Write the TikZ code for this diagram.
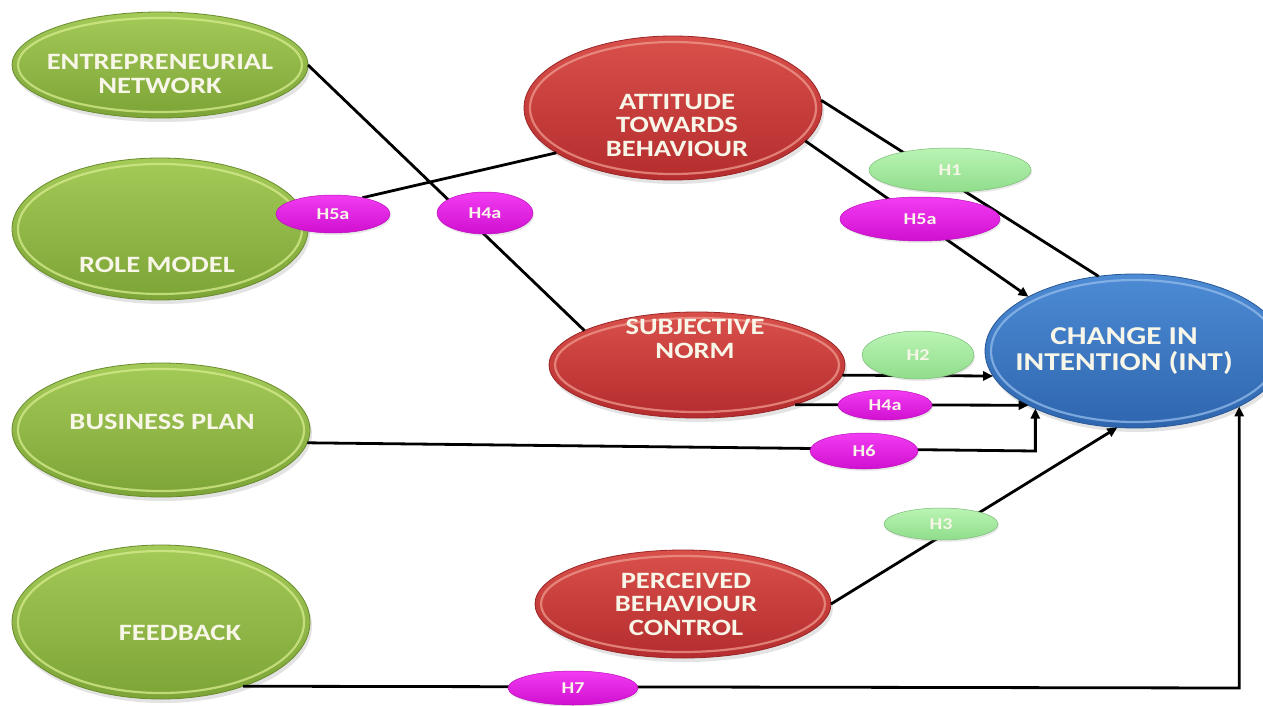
\documentclass[tikz,border=0pt]{standalone}
\usepackage{fontspec}
\setmainfont{Carlito}[FakeStretch=1.22]
\usetikzlibrary{shapes.geometric,arrows.meta,shadows,calc}

\definecolor{greenA}{HTML}{A4CA58}
\definecolor{greenB}{HTML}{7CA436}
\definecolor{greenRim}{HTML}{D6EC8E}
\definecolor{redA}{HTML}{D9504B}
\definecolor{redB}{HTML}{B42C2D}
\definecolor{redRim}{HTML}{EE9A8E}
\definecolor{blueA}{HTML}{4D8BD5}
\definecolor{blueB}{HTML}{2E66AE}
\definecolor{blueRim}{HTML}{93BCEB}
\definecolor{mintA}{HTML}{BAF4B4}
\definecolor{mintB}{HTML}{8FDD8B}
\definecolor{pinkA}{HTML}{F23CF2}
\definecolor{pinkB}{HTML}{D010D0}
\definecolor{captext}{HTML}{F8F6E8}

\pgfdeclarelayer{shapes}
\pgfdeclarelayer{links}
\pgfsetlayers{shapes,links,main}

\tikzset{
  rim/.style={path picture={
      \draw[#1, line width=2.2pt, opacity=0.75]
        let \p1=(path picture bounding box.north east),
            \p2=(path picture bounding box.south west) in
        (path picture bounding box.center)
        ellipse [x radius={(\x1-\x2)/2-6pt}, y radius={(\y1-\y2)/2-6pt}];}},
  bubble/.style={ellipse, inner sep=0pt, outer sep=0pt,
      drop shadow={opacity=0.22, shadow xshift=2pt, shadow yshift=-4pt}},
  factor/.style={bubble, top color=greenA, bottom color=greenB,
      draw=greenB!85!black, line width=0.8pt, rim=greenRim},
  construct/.style={bubble, top color=redA, bottom color=redB,
      draw=redB!85!black, line width=0.8pt, rim=redRim},
  outcome/.style={bubble, top color=blueA, bottom color=blueB,
      draw=blueB!85!black, line width=0.8pt, rim=blueRim},
  hyp/.style={ellipse, inner sep=0pt, outer sep=0pt, text=captext,
      font=\fontsize{16.5pt}{17pt}\selectfont\bfseries,
      drop shadow={opacity=0.18, shadow xshift=1pt, shadow yshift=-2pt}},
  hpink/.style={hyp, top color=pinkA, bottom color=pinkB, draw=pinkB!90!black, line width=0.5pt},
  hmint/.style={hyp, top color=mintA, bottom color=mintB, draw=mintB!85!black, line width=0.5pt},
  caption/.style={text=captext, align=center, inner sep=0pt,
      font=\fontsize{23.4pt}{23.5pt}\selectfont\bfseries},
  link/.style={line width=2.8pt, black},
  arrowlink/.style={link, -{Triangle[length=10pt,width=9pt]}},
}

\begin{document}
\begin{tikzpicture}[x=1pt,y=-1pt]
\useasboundingbox (0,0) rectangle (1263,706);
\clip (0,0) rectangle (1263,706);

\begin{pgfonlayer}{shapes}
\fill[white] (0,0) rectangle (1263,706);

% external factors (green)
\node[factor, minimum width=296pt, minimum height=106pt] (en) at (160,65) {};
\node[factor, minimum width=296pt, minimum height=142pt] (rm) at (160,229) {};
\node[factor, minimum width=298pt, minimum height=134pt] (bp) at (161,430) {};
\node[factor, minimum width=298pt, minimum height=154pt] (fb) at (161,622) {};

% theory of planned behaviour constructs (red)
\node[construct, minimum width=298pt, minimum height=144pt] (atb) at (673,108) {};
\node[construct, minimum width=296pt, minimum height=106pt] (sn) at (697,365) {};
\node[construct, minimum width=296pt, minimum height=108pt] (pbc) at (683,604) {};

% outcome (blue)
\node[outcome, minimum width=300pt, minimum height=154pt] (int) at (1135,351) {};

% captions
\node[caption] (entext) at (160,74) {ENTREPRENEURIAL\\NETWORK};
\node[caption] (rmtext) at (157,265) {ROLE MODEL};
\node[caption] (bptext) at (162,422) {BUSINESS PLAN};
\node[caption] (fbtext) at (180,633) {FEEDBACK};
\node[caption] (atbtext) at (677,125) {ATTITUDE\\TOWARDS\\BEHAVIOUR};
\node[caption] (sntext) at (695,339) {SUBJECTIVE\\NORM};
\node[caption] (pbctext) at (686,604) {PERCEIVED\\BEHAVIOUR\\CONTROL};
\node[caption, font=\fontsize{25.7pt}{26pt}\selectfont\bfseries] (inttext) at (1124,351) {CHANGE IN\\INTENTION (INT)};
\end{pgfonlayer}

% hypothesis tags (on top of the connectors)
\node[hpink, minimum width=114pt, minimum height=38pt] (h5aL) at (333,214) {H5a};
\node[hpink, minimum width=96pt,  minimum height=42pt] (h4aT) at (485,213) {H4a};
\node[hmint, minimum width=162pt, minimum height=44pt] (h1)   at (950,170) {H1};
\node[hpink, minimum width=160pt, minimum height=44pt] (h5aR) at (920,219) {H5a};
\node[hmint, minimum width=112pt, minimum height=48pt] (h2)   at (918,355) {H2};
\node[hpink, minimum width=94pt,  minimum height=30pt] (h4aR) at (885,405) {H4a};
\node[hpink, minimum width=108pt, minimum height=36pt] (h6)   at (864,451) {H6};
\node[hmint, minimum width=114pt, minimum height=32pt] (h3)   at (941,524) {H3};
\node[hpink, minimum width=130pt, minimum height=34pt] (h7)   at (573,688) {H7};

% connectors
\coordinate (bpturn) at (int.210 |- h6.center);
\coordinate (fbturn) at (int.-28 |- h7.center);
\begin{pgfonlayer}{links}
\draw[link] (en.east) -- (sn.163);
\draw[link] (h5aL.29) -- (atb.201);
\draw[link] (atb.3) -- (int.116);
\draw[arrowlink] (atb.-14) -- (int.153);
\draw[arrowlink] (sn.-4) -- (int.190);
\draw[arrowlink] (sn.-22) -- (int.207);
\draw[arrowlink] (bp.-5) -- (bpturn) -- (int.210);
\draw[arrowlink] (pbc.east) -- (int.257);
\draw[arrowlink] (fb.-38) -- (fbturn) -- (int.-28);
\end{pgfonlayer}
\end{tikzpicture}
\end{document}
